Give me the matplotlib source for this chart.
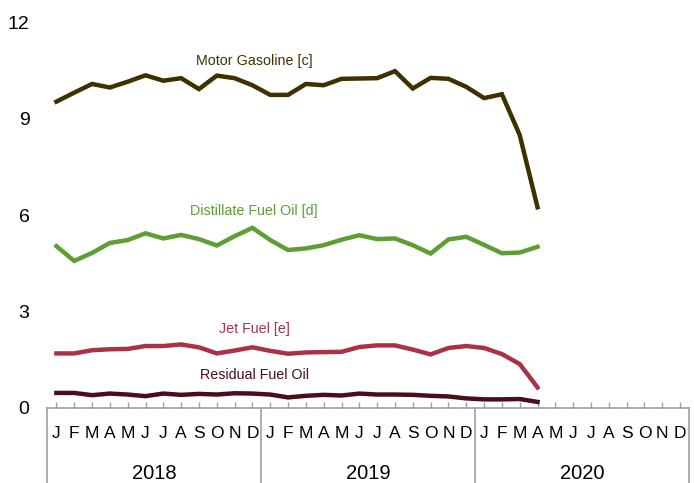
import matplotlib
matplotlib.use("Agg")
import matplotlib.pyplot as plt
import matplotlib.transforms as mtransforms

plt.rcParams['font.family'] = ['Liberation Sans', 'DejaVu Sans']

# monthly values, Jan 2018 - Apr 2020
months = ['J', 'F', 'M', 'A', 'M', 'J', 'J', 'A', 'S', 'O', 'N', 'D']
years = ['2018', '2019', '2020']

gasoline = [9.53, 9.81, 10.08, 9.97, 10.15, 10.35, 10.18, 10.26, 9.92, 10.34, 10.26, 10.04,
            9.74, 9.74, 10.08, 10.04, 10.24, 10.25, 10.26, 10.48, 9.94, 10.27, 10.24, 9.99,
            9.64, 9.76, 8.49, 6.24]
distillate = [5.03, 4.57, 4.82, 5.13, 5.22, 5.43, 5.27, 5.38, 5.25, 5.05, 5.34, 5.60,
              5.22, 4.91, 4.96, 5.06, 5.23, 5.37, 5.25, 5.27, 5.06, 4.80, 5.24, 5.32,
              5.07, 4.81, 4.83, 5.01]
jet_fuel = [1.69, 1.69, 1.79, 1.82, 1.83, 1.92, 1.92, 1.97, 1.88, 1.69, 1.78, 1.88,
            1.77, 1.68, 1.72, 1.73, 1.74, 1.89, 1.94, 1.94, 1.81, 1.66, 1.86, 1.92,
            1.86, 1.67, 1.36, 0.63]
residual = [0.46, 0.46, 0.39, 0.44, 0.41, 0.36, 0.44, 0.40, 0.43, 0.41, 0.45, 0.44,
            0.41, 0.32, 0.37, 0.40, 0.38, 0.44, 0.41, 0.41, 0.40, 0.37, 0.35, 0.29,
            0.26, 0.26, 0.27, 0.18]

series = [
    ('Motor Gasoline [c]', gasoline, '#3f3000', 10.8),
    ('Distillate Fuel Oil [d]', distillate, '#5e9e35', 6.12),
    ('Jet Fuel [e]', jet_fuel, '#a83347', 2.45),
    ('Residual Fuel Oil', residual, '#4b0d18', 1.01),
]

fig = plt.figure(figsize=(6.94, 4.83), dpi=100)
ax = fig.add_axes([47.5 / 694, 75.3 / 483, 641.5 / 694, 385.4 / 483])

n_months = len(months) * len(years)
for label, values, color, label_y in series:
    ax.plot(range(len(values)), values, color=color, lw=3.2, solid_joinstyle='miter')
    ax.text(11.1, label_y, label, color=color, fontsize=10.3, ha='center', va='center')

ax.set_xlim(-0.5, n_months - 0.5)
ax.set_ylim(0, 12)
ax.set_yticks([0, 3, 6, 9, 12])
ax.tick_params(axis='y', length=0, pad=13, labelsize=14)

# month ticks sit inside the plot, letters go below
ax.set_xticks(range(n_months))
ax.set_xticklabels([])
ax.tick_params(axis='x', direction='in', length=4, color='#a0a0a0', width=1)

for s in ['top', 'right', 'left']:
    ax.spines[s].set_visible(False)
ax.spines['bottom'].set_color('#a0a0a0')
ax.spines['bottom'].set_linewidth(1.2)

trans = mtransforms.blended_transform_factory(ax.transData, ax.transAxes)
for i in range(n_months):
    ax.text(i, -0.068, months[i % 12], transform=trans, ha='center', va='center',
            fontsize=12.5)
for k, yr in enumerate(years):
    ax.text(k * 12 + 5.5, -0.17, yr, transform=trans, ha='center', va='center',
            fontsize=14.5)
for k in range(len(years) + 1):
    ax.plot([k * 12 - 0.5] * 2, [0, -0.2], transform=trans, color='#a0a0a0',
            lw=1.2, clip_on=False)

fig.savefig('out.png', dpi=100)
